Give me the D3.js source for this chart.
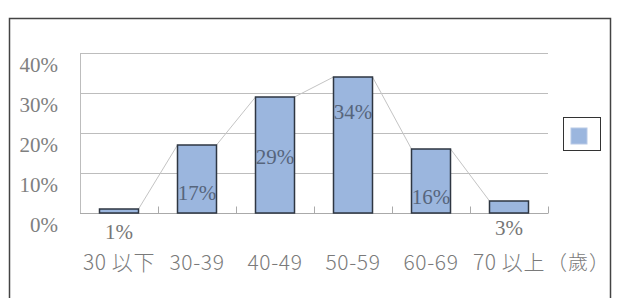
<!DOCTYPE html>
<html>
<head>
<meta charset="utf-8">
<script src="https://cdn.jsdelivr.net/npm/d3@7"></script>
<style>
body { margin: 0; background: #fff; }
</style>
</head>
<body>
<div id="chart"></div>
<script>
var ages = ["30 以下", "30-39", "40-49", "50-59", "60-69", "70 以上"];
var shares = [1, 17, 29, 34, 16, 3];
var yTicks = [0, 10, 20, 30, 40];
var unitLabel = "（歲）";
// where each data label sits, in % units
var labelAt = [-4.8, 5, 14, 25.3, 4, -3.8];

var W = 618, H = 298;
var plot = {left: 80, right: 548, top: 53, bottom: 213};

var svg = d3.select("#chart").append("svg")
    .attr("width", W)
    .attr("height", H);

// outer frame
svg.append("rect")
    .attr("x", 9.5).attr("y", 18.5)
    .attr("width", 601).attr("height", 300)
    .attr("fill", "none")
    .attr("stroke", "#444")
    .attr("stroke-width", 1.5);

var x = d3.scaleBand()
    .domain(ages)
    .range([plot.left, plot.right])
    .paddingInner(0.5)
    .paddingOuter(0.25);

var y = d3.scaleLinear()
    .domain([0, 40])
    .range([plot.bottom, plot.top]);

// gridlines
svg.append("g")
  .selectAll("line")
  .data(yTicks.filter(function(d) { return d > 0; }))
  .enter().append("line")
    .attr("x1", plot.left).attr("x2", plot.right)
    .attr("y1", function(d) { return y(d) + 0.5; })
    .attr("y2", function(d) { return y(d) + 0.5; })
    .attr("stroke", "#bdbdbd");

// left border of plot
svg.append("line")
    .attr("x1", plot.left + 0.5).attr("x2", plot.left + 0.5)
    .attr("y1", plot.top).attr("y2", plot.bottom)
    .attr("stroke", "#bdbdbd");

// baseline with small inner ticks
var step = x.step();
var ax = svg.append("g")
    .attr("transform", "translate(0," + (y(0) + 0.5) + ")");
ax.append("line")
    .attr("x1", plot.left).attr("x2", plot.right)
    .attr("stroke", "#aaa");
ax.selectAll(".tk")
  .data(d3.range(1, ages.length + 1))
  .enter().append("line")
    .attr("class", "tk")
    .attr("x1", function(i) { return Math.round(plot.left + i * step) + 0.5; })
    .attr("x2", function(i) { return Math.round(plot.left + i * step) + 0.5; })
    .attr("y1", 0).attr("y2", -7)
    .attr("stroke", "#aaa");

// y tick labels
svg.append("g")
  .selectAll("text")
  .data(yTicks)
  .enter().append("text")
    .attr("x", 58)
    .attr("y", function(d) { return y(d) + 19; })
    .attr("text-anchor", "end")
    .attr("font-family", "Liberation Serif, serif")
    .attr("font-size", 21)
    .attr("fill", "#808080")
    .text(function(d) { return d + "%"; });

// series lines between bars
var links = d3.range(ages.length - 1);
svg.append("g")
  .selectAll("line")
  .data(links)
  .enter().append("line")
    .attr("x1", function(i) { return x(ages[i]) + x.bandwidth(); })
    .attr("y1", function(i) { return y(shares[i]); })
    .attr("x2", function(i) { return x(ages[i + 1]); })
    .attr("y2", function(i) { return y(shares[i + 1]); })
    .attr("stroke", "#c4c4c4")
    .attr("stroke-width", 1);

// bars
svg.append("g")
  .selectAll("rect")
  .data(shares)
  .enter().append("rect")
    .attr("x", function(d, i) { return x(ages[i]); })
    .attr("y", function(d) { return y(d); })
    .attr("width", x.bandwidth())
    .attr("height", function(d) { return y(0) - y(d); })
    .attr("fill", "#9bb6de")
    .attr("stroke", "#2e3642")
    .attr("stroke-width", 1.5);

// data labels
svg.append("g")
  .selectAll("text")
  .data(shares)
  .enter().append("text")
    .attr("x", function(d, i) { return x(ages[i]) + x.bandwidth() / 2; })
    .attr("y", function(d, i) { return y(labelAt[i]) + 7; })
    .attr("text-anchor", "middle")
    .attr("font-family", "Liberation Serif, serif")
    .attr("font-size", 21)
    .attr("fill", function(d, i) { return labelAt[i] < 0 ? "#767676" : "#56657c"; })
    .text(function(d) { return d + "%"; });

// category labels
var cats = svg.append("g")
  .selectAll("text")
  .data(ages)
  .enter().append("text")
    .attr("x", function(d) { return x(d) + x.bandwidth() / 2; })
    .attr("y", 270)
    .attr("text-anchor", "middle")
    .attr("font-family", "Noto Sans CJK TC, sans-serif")
    .attr("font-weight", 300)
    .attr("font-size", 21)
    .attr("letter-spacing", 0.6)
    .attr("fill", "#7a7a7a")
    .text(function(d) { return d; });

// unit after last category
var last = cats.filter(function(d, i) { return i === ages.length - 1; });
var lastEnd = x(ages[ages.length - 1]) + x.bandwidth() / 2 + last.node().getComputedTextLength() / 2;
svg.append("text")
    .attr("x", lastEnd + 2)
    .attr("y", 270)
    .attr("font-family", "Noto Sans CJK TC, sans-serif")
    .attr("font-weight", 300)
    .attr("font-size", 20)
    .attr("letter-spacing", 1)
    .attr("fill", "#7a7a7a")
    .text(unitLabel);

// legend
svg.append("rect")
    .attr("x", 563.5).attr("y", 117.5)
    .attr("width", 37).attr("height", 33)
    .attr("fill", "#fff")
    .attr("stroke", "#333");
svg.append("rect")
    .attr("x", 571).attr("y", 128)
    .attr("width", 16).attr("height", 16)
    .attr("fill", "#9bb6de")
    .attr("stroke", "#b8c9e6");
</script>
</body>
</html>
